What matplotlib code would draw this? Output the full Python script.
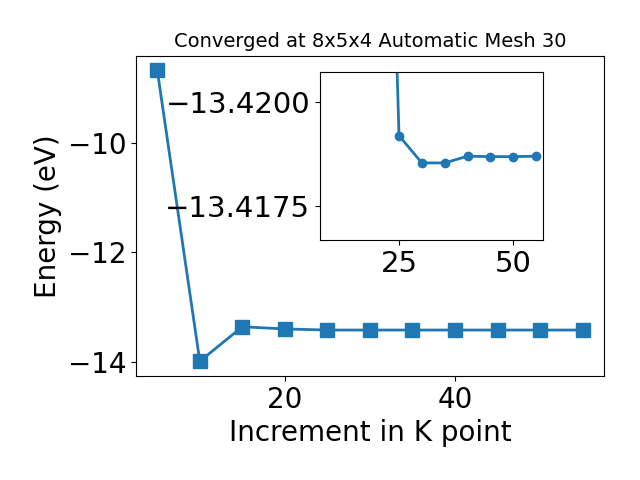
import numpy as np
import matplotlib
matplotlib.use('Agg')
import matplotlib.pyplot as plt

kpoints = [5, 10, 15, 20, 25, 30, 35, 40, 45, 50, 55]
energy = [-8.68, -13.99, -13.36, -13.40, -13.42, -13.42, -13.42, -13.42, -13.42, -13.42, -13.42]

# zoomed values for the inset
kpoints_zoom = [20, 25, 30, 35, 40, 45, 50, 55]
energy_zoom = [-13.40, -13.41831, -13.41896, -13.41896, -13.41880, -13.41881, -13.41881, -13.41880]
inset_ticks = [-13.4175, -13.4200]
inset_ticklabels = ['\u221213.4200', '\u221213.4175']

fig = plt.figure(figsize=(6.4, 4.8))
ax = fig.add_axes([0.2125, 0.217, 0.731, 0.667])
ax.plot(kpoints, energy, color='tab:blue', marker='s', markersize=10, linewidth=2)
ax.set_xlabel('Increment in K point', fontsize=20)
ax.set_ylabel('Energy (eV)', fontsize=20)
ax.set_title('Converged at 8x5x4 Automatic Mesh 30', fontsize=14)
ax.tick_params(labelsize=20)
ax.set_yticks([-14, -12, -10])

ax2 = fig.add_axes([0.5, 0.5, 0.349, 0.35])
ax2.plot(kpoints_zoom, energy_zoom, color='tab:blue', marker='o', markersize=6, linewidth=2)
ax2.set_xlim(7.7, 56.6)
ax2.set_ylim(-13.4208, -13.41679)
ax2.set_yticks(inset_ticks)
ax2.set_yticklabels(inset_ticklabels)
ax2.set_xticks([25, 50])
ax2.tick_params(labelsize=21)

plt.savefig('out.png', dpi=100)
